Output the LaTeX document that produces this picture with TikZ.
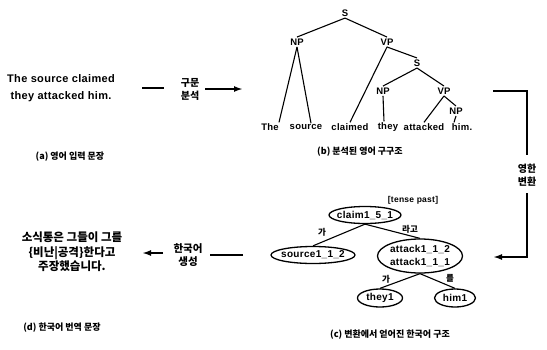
\documentclass[tikz,border=0pt]{standalone}
\usepackage{fontspec}
\setmainfont{Liberation Sans}[LetterSpace=3]
\newfontfamily\kr{Noto Sans CJK KR}
\usetikzlibrary{arrows.meta,shapes.geometric}
\begin{document}
\begin{tikzpicture}[x=1pt,y=-1pt,
  en/.style={font=\bfseries\fontsize{11}{16.5}\selectfont, align=center, inner sep=0pt},
  lab/.style={font=\bfseries\fontsize{9.5}{10}\selectfont, inner sep=1.5pt},
  word/.style={font=\bfseries\fontsize{9.5}{12}\selectfont, inner sep=1pt},
  tline/.style={line width=1.1pt},
  seg/.style={line width=2.2pt},
  arr/.style={line width=2.2pt, -{Latex[length=9pt,width=6pt]}},
  ell/.style={ellipse, draw, line width=1.3pt, inner sep=0pt},
  etext/.style={font=\bfseries\fontsize{10}{13}\selectfont, align=center, inner sep=0pt},
  krl/.style={font=\kr\bfseries\fontsize{10}{13}\selectfont, align=center, inner sep=0pt},
  elab/.style={font=\kr\bfseries\fontsize{8.5}{10}\selectfont, inner sep=0pt},
  captext/.style={font=\kr\bfseries\fontsize{9}{11}\selectfont, inner sep=0pt}]
\useasboundingbox (0,0) rectangle (547,349);

% (a)
\node[en] (atext) at (61,88) {The source claimed\\they attacked him.};
\node[captext] (capa) at (70,157) {(a) 영어 입력 문장};

% parse arrow
\coordinate (p1) at (142,88);
\coordinate (p2) at (164,88);
\coordinate (p3) at (205,89);
\coordinate (p4) at (243,89);
\node[krl] (parse) at (190,89) {구문\\분석};
\draw[seg] (p1) -- (p2);
\draw[arr] (p3) -- (p4);

% (b) tree
\node[lab] (s1) at (345,13) {S};
\node[lab] (np1) at (297,42) {NP};
\node[lab] (vp1) at (387,42) {VP};
\node[lab] (s2) at (417,63) {S};
\node[lab] (np2) at (383,91) {NP};
\node[lab] (vp2) at (444,91) {VP};
\node[lab] (np3) at (456,111) {NP};
\node[word] (w1) at (270,127) {The};
\node[word] (w2) at (306,127) {source};
\node[word] (w3) at (350,127) {claimed};
\node[word] (w4) at (388,127) {they};
\node[word] (w5) at (424,127) {attacked};
\node[word] (w6) at (462,127) {him.};
\draw[tline] (s1.south) -- (np1.north);
\draw[tline] (s1.south) -- (vp1.north);
\draw[tline] (np1.south) -- ([xshift=9pt]w1.north);
\draw[tline] (np1.south) -- ([xshift=5pt]w2.north);
\draw[tline] (vp1.south) -- (w3.north);
\draw[tline] (vp1.south) -- (s2.north);
\draw[tline] (s2.south) -- (np2.north);
\draw[tline] (s2.south) -- (vp2.north);
\draw[tline] (np2.south) -- ([xshift=-4pt]w4.north);
\draw[tline] (vp2.south) -- (w5.north);
\draw[tline] (vp2.south) -- (np3.north);
\draw[tline] (np3.south) -- ([xshift=-8pt]w6.north);
\node[captext] (capb) at (360,152) {(b) 분석된 영어 구구조};

% transfer arrow
\coordinate (t1) at (493,91);
\coordinate (t2) at (527,91);
\coordinate (t3) at (527,155);
\coordinate (t4) at (527,193);
\coordinate (t5) at (527,257);
\coordinate (t6) at (493,257);
\node[krl] (transfer) at (527,175) {영한\\변환};
\draw[seg] (t1) -- (t2) -- (t3);
\draw[arr] (t4) -- (t5) -- (t6);

% (c) structure
\node[font=\bfseries\fontsize{8.5}{10}\selectfont, inner sep=0pt] (tense) at (413,200) {[tense past]};
\node[ell, minimum width=72pt, minimum height=17pt,
  label={[etext]center:claim1\_5\_1}] (claim) at (365,215) {};
\node[ell, minimum width=84pt, minimum height=17pt,
  label={[etext]center:source1\_1\_2}] (source) at (313,255) {};
\node[ell, minimum width=85pt, minimum height=34pt,
  label={[etext]center:attack1\_1\_2\\attack1\_1\_1}] (attack) at (420,256) {};
\node[ell, minimum width=45pt, minimum height=18pt,
  label={[etext]center:they1}] (they) at (380,298) {};
\node[ell, minimum width=41pt, minimum height=18pt,
  label={[etext]center:him1}] (him) at (455,298) {};
\draw[tline] (claim.south) -- (source.north);
\draw[tline] (claim.south) -- (attack.north);
\draw[tline] (attack.south) -- (they.north);
\draw[tline] (attack.south) -- (him.north);
\node[elab] (g1) at (322,232) {가};
\node[elab] (g2) at (410,229) {라고};
\node[elab] (g3) at (386,279) {가};
\node[elab] (g4) at (450,278) {를};
\node[captext] (capc) at (390,335) {(c) 변환에서 얻어진 한국어 구조};

% generation arrow
\coordinate (g5) at (243,255);
\coordinate (g6) at (210,255);
\coordinate (g7) at (163,253);
\coordinate (g8) at (142,253);
\node[krl, font=\kr\bfseries\fontsize{10.5}{13.5}\selectfont] (gen) at (188,255) {한국어\\생성};
\draw[seg] (g5) -- (g6);
\draw[arr] (g7) -- (g8);

% (d)
\node[font=\kr\bfseries\fontsize{11.5}{14.5}\selectfont, align=center, inner sep=0pt] (dtext) at (72,252)
  {소식통은 그들이 그를\\\{비난|공격\}한다고\\주장했습니다.};
\node[captext] (capd) at (62,328) {(d) 한국어 번역 문장};
\end{tikzpicture}
\end{document}
